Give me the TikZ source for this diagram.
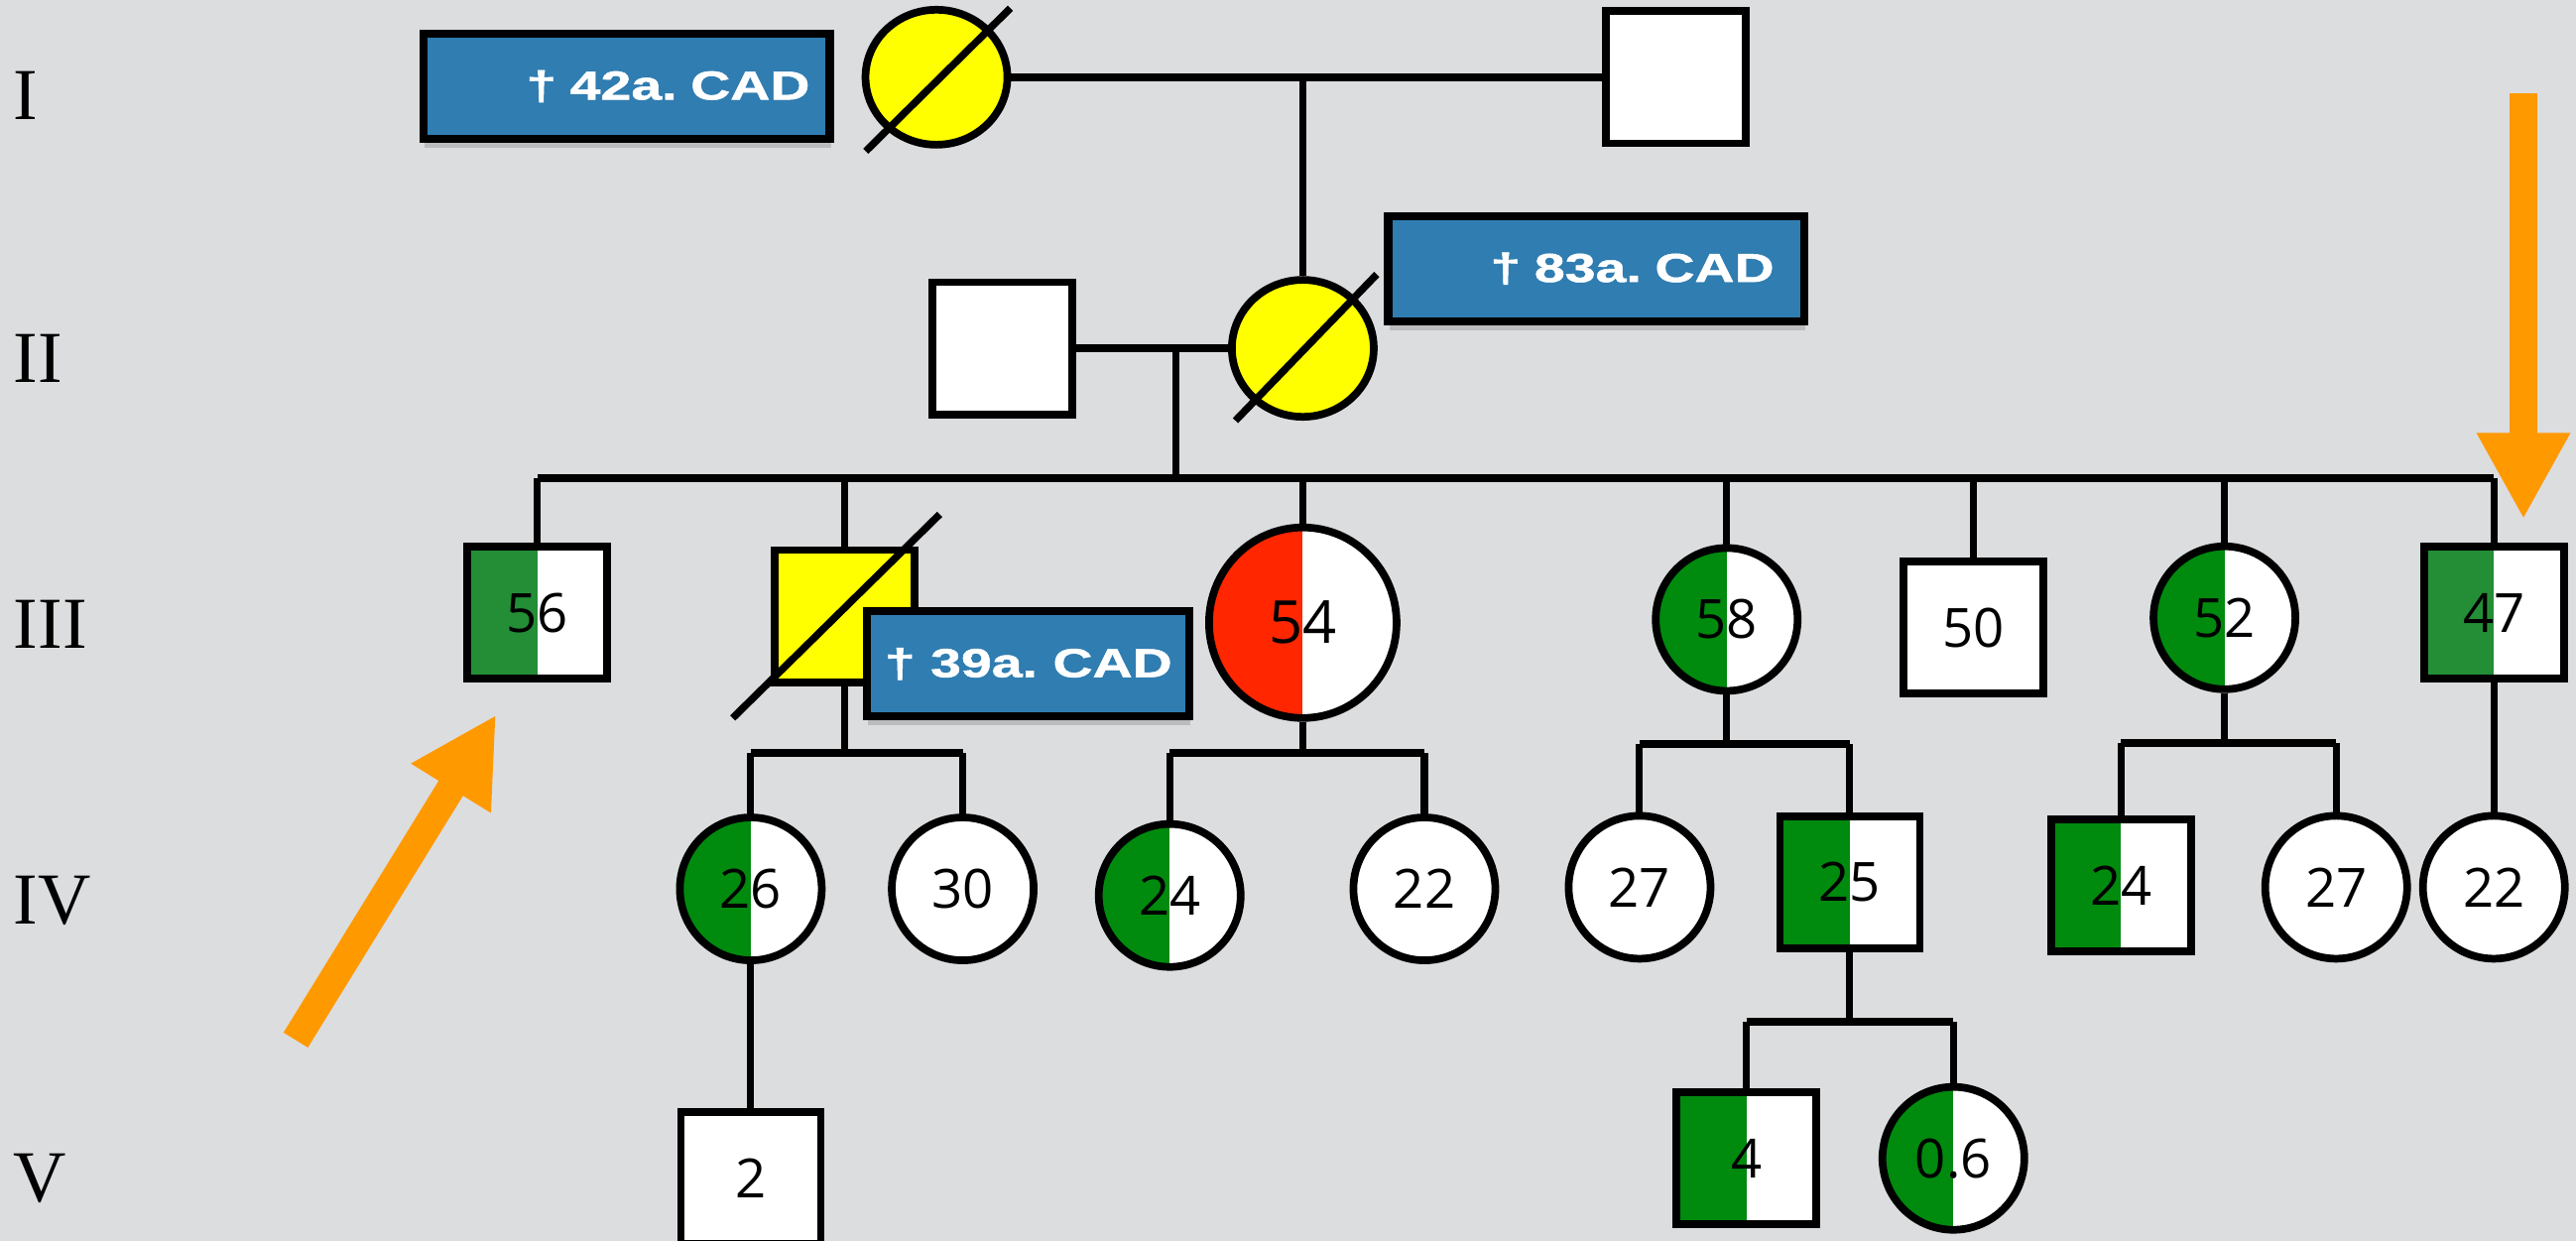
\documentclass[tikz,border=0pt]{standalone}
\usepackage{fontspec}
\setmainfont{Liberation Serif}
\newfontfamily\numfont{Open Sans}
\newfontfamily\boxfont[FakeStretch=1.36, BoldFeatures={FakeBold=1.2}]{Liberation Sans}
\usetikzlibrary{shapes.geometric,shadows,arrows.meta}
\definecolor{bg}{HTML}{DCDDDF}
\definecolor{pyellow}{HTML}{FFFF00}
\definecolor{pblue}{HTML}{2F7DB1}
\definecolor{pred}{HTML}{FF2600}
\definecolor{pgreen}{HTML}{008A0E}
\definecolor{pgreenb}{HTML}{238E36}
\definecolor{porange}{HTML}{FF9900}
\tikzset{
  person/.style={draw=black, line width=2.2pt, fill=white, inner sep=0pt,
    font=\numfont\fontsize{15.5}{15.5}\selectfont},
  sq/.style={person, rectangle, minimum width=1.41cm, minimum height=1.33cm},
  ci/.style={person, ellipse, minimum width=1.43cm, minimum height=1.44cm},
  half/.style={path picture={\fill[#1] (path picture bounding box.south west) rectangle (path picture bounding box.north);}},
  slash/.style={line width=2.1pt, line cap=butt},
  note/.style={draw=black, line width=2.3pt, fill=pblue, text=white, inner ysep=0pt,
    font=\boxfont\bfseries\fontsize{11.6}{11.6}\selectfont, minimum height=1.06cm,
    drop shadow={shadow xshift=0.3pt, shadow yshift=-2.5pt, opacity=0.35}},
  link/.style={line width=2pt},
  bar/.style={line width=2.3pt},
  gen/.style={anchor=west, font=\fontsize{21}{21}\selectfont, inner sep=0pt},
  pointer/.style={draw=porange, line width=8.2pt, -{Triangle[length=0.87cm, width=0.88cm]}},
}
\begin{document}
\frenchspacing
\begin{tikzpicture}[x=0.01656cm, y=-0.01656cm]
\fill[bg] (0,0) rectangle (1568,755);
\useasboundingbox (0,0) rectangle (1568,755);

% generation labels
\node[gen] (gI) at (8,58) {I};
\node[gen] (gII) at (8,218) {II};
\node[gen] (gIII) at (8,380) {III};
\node[gen] (gIV) at (8,548) {IV};
\node[gen] (gV) at (8,717) {V};

% generation I
\node[ci, fill=pyellow, minimum height=1.36cm] (I1) at (570,47) {};
\node[sq] (I2) at (1020,47) {};
% generation II
\node[sq] (II1) at (610,212) {};
\node[ci, fill=pyellow, minimum height=1.38cm] (II2) at (793,212) {};
% generation III
\node[sq, half=pgreenb] (III1) at (327,373) {56};
\node[sq, fill=pyellow] (III2) at (514,375) {};
\node[ci, half=pred, minimum width=1.89cm, minimum height=1.92cm, font=\numfont\fontsize{17}{17}\selectfont] (III3) at (793,379) {54};
\node[ci, half=pgreen] (III4) at (1051,377) {58};
\node[sq] (III5) at (1201,382) {50};
\node[ci, half=pgreen] (III6) at (1354,376) {52};
\node[sq, half=pgreenb] (III7) at (1518,373) {47};
% generation IV
\node[ci, half=pgreen] (IV1) at (457,541) {26};
\node[ci] (IV2) at (586,541) {30};
\node[ci, half=pgreen] (IV3) at (712,545) {24};
\node[ci] (IV4) at (867,541) {22};
\node[ci] (IV5) at (998,540) {27};
\node[sq, half=pgreen] (IV6) at (1126,537) {25};
\node[sq, half=pgreen] (IV7) at (1291,539) {24};
\node[ci] (IV8) at (1422,540) {27};
\node[ci] (IV9) at (1518,540) {22};
% generation V
\node[sq] (V1) at (457,717) {2};
\node[sq, half=pgreen] (V2) at (1063,705) {4};
\node[ci, half=pgreen] (V3) at (1189,705) {0.6};

% couples and descent
\draw[bar] (I1.east) -- (I2.west);
\coordinate (m1) at (793,47);
\draw[link] (m1) -- (II2.north);
\draw[bar] (II1.east) -- (II2.west);
\coordinate (m2) at (716,212);
\coordinate (s2) at (716,291);
\draw[link] (m2) -- (s2);
\draw[bar] (III1.north |- s2) -- (III7.north |- s2);
\foreach \n in {III1,III2,III3,III4,III5,III6,III7}
  \draw[link] (\n.north) -- (\n.north |- s2);

\coordinate (s3a) at (513,458);
\draw[link] (III2.south) -- (III2.south |- s3a);
\draw[bar] (IV1.north |- s3a) -- (IV2.north |- s3a);
\draw[link] (IV1.north) -- (IV1.north |- s3a);
\draw[link] (IV2.north) -- (IV2.north |- s3a);

\coordinate (s3b) at (793,458);
\draw[link] (III3.south) -- (s3b);
\draw[bar] (IV3.north |- s3b) -- (IV4.north |- s3b);
\draw[link] (IV3.north) -- (IV3.north |- s3b);
\draw[link] (IV4.north) -- (IV4.north |- s3b);

\coordinate (s3c) at (1051,453);
\draw[link] (III4.south) -- (s3c);
\draw[bar] (IV5.north |- s3c) -- (IV6.north |- s3c);
\draw[link] (IV5.north) -- (IV5.north |- s3c);
\draw[link] (IV6.north) -- (IV6.north |- s3c);

\coordinate (s3d) at (1354,452);
\draw[link] (III6.south) -- (s3d);
\draw[bar] (IV7.north |- s3d) -- (IV8.north |- s3d);
\draw[link] (IV7.north) -- (IV7.north |- s3d);
\draw[link] (IV8.north) -- (IV8.north |- s3d);

\draw[link] (III7.south) -- (IV9.north);
\draw[link] (IV1.south) -- (V1.north);

\coordinate (s4) at (1126,622);
\draw[link] (IV6.south) -- (s4);
\draw[bar] (V2.north |- s4) -- (V3.north |- s4);
\draw[link] (V2.north) -- (V2.north |- s4);
\draw[link] (V3.north) -- (V3.north |- s4);

% deceased slashes
\draw[slash] (I1) ++(-43,45) -- ++(88,-87);
\draw[slash] (II2) ++(-41,44) -- ++(86,-89);
\draw[slash] (III2) ++(-68,62) -- ++(126,-124);

% notes
\node[note, text width=3.69cm, inner xsep=0.2cm, align=right] (n1) at (381.5,52.5) {† 42a. CAD};
\node[note, text width=3.59cm, inner xsep=0.3cm, align=right] (n2) at (971.5,163.5) {† 83a. CAD};
\node[note, minimum width=3.25cm, inner xsep=0pt, align=center] (n3) at (626,404) {† 39a. CAD};

% orange pointers
\coordinate (a1s) at (180,633);
\coordinate (a1e) at (302,435);
\draw[pointer] (a1s) -- (a1e);
\coordinate (a2s) at (1536,57);
\coordinate (a2e) at (1536,316);
\draw[pointer] (a2s) -- (a2e);
\end{tikzpicture}
\end{document}
